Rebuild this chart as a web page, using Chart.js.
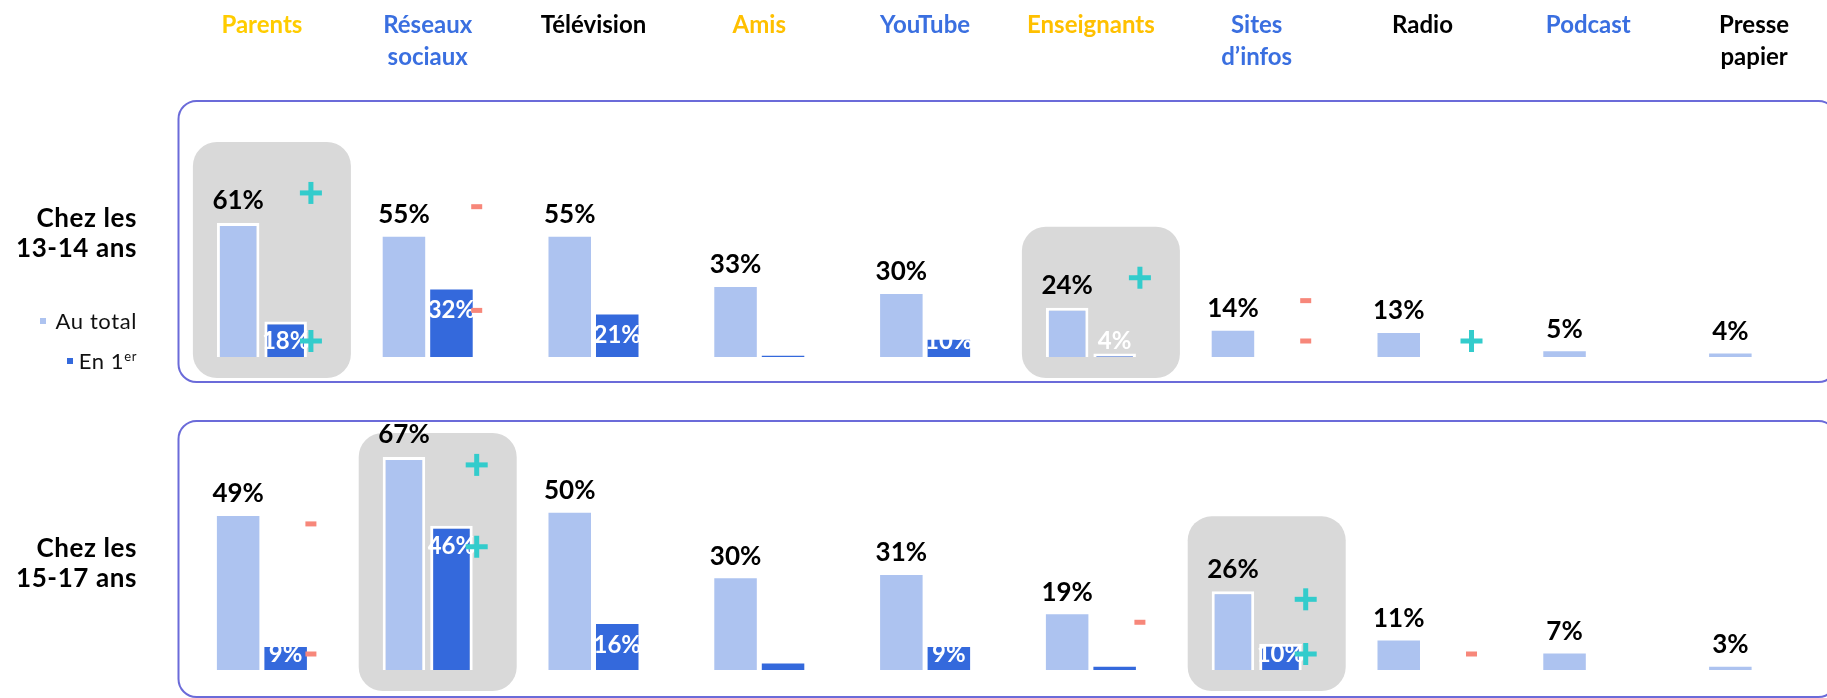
<!DOCTYPE html>
<html>
<head>
<meta charset="utf-8">
<script src="https://cdn.jsdelivr.net/npm/chart.js"></script>
<style>
html,body{margin:0;padding:0;background:#fff;}
#wrap{position:relative;width:1827px;height:698px;overflow:hidden;background:#fff;font-family:Lato,sans-serif;}
#c1{position:absolute;left:0;top:0;}
#c2{position:absolute;left:0;top:400px;}
.rowlab{position:absolute;left:0;width:137px;text-align:right;font-weight:bold;font-size:26px;line-height:30px;color:#000;letter-spacing:0.6px;}
.leg{position:absolute;left:0;width:137px;text-align:right;font-size:22px;line-height:24px;color:#111;letter-spacing:0.6px;}
.leg sup{font-size:13px;vertical-align:8px;line-height:0;}
.sq{position:absolute;width:6px;height:6px;}
</style>
</head>
<body>
<div id="wrap">
  <canvas id="c1" width="1840" height="400" style="width:1840px;height:400px"></canvas>
  <canvas id="c2" width="1840" height="298" style="width:1840px;height:298px"></canvas>
  <div class="rowlab" style="top:202px">Chez les<br>13-14 ans</div>
  <div class="rowlab" style="top:532px">Chez les<br>15-17 ans</div>
  <div class="sq" style="left:40px;top:318px;background:#ADC3F0"></div>
  <div class="leg" style="top:309px">Au total</div>
  <div class="sq" style="left:67px;top:358px;background:#3469DC"></div>
  <div class="leg" style="top:349px">En 1<sup>er</sup></div>
</div>
<script>
// ---- data ----
const categories = [["Parents"], ["Réseaux", "sociaux"], ["Télévision"], ["Amis"], ["YouTube"],
                    ["Enseignants"], ["Sites", "d’infos"], ["Radio"], ["Podcast"], ["Presse", "papier"]];
const categoryColors = ["#FFCC00", "#3A6FE0", "#000000", "#FFC000", "#3A6FE0",
                        "#FFC000", "#3A6FE0", "#000000", "#3A6FE0", "#000000"];

const total1314 = [61, 55, 55, 33, 30, 24, 14, 13, 5, 4];
const first1314 = [18, 32, 21, 3, 10, 4, null, null, null, null];
const total1517 = [49, 67, 50, 30, 31, 19, 26, 11, 7, 3];
const first1517 = [9, 46, 16, 4, 9, 3, 10, null, null, null];

// significance: 1 = "+", -1 = "-", 0 = none
const sigTotal1314 = [1, -1, 0, 0, 0, 1, -1, 0, 0, 0];
const sigFirst1314 = [1, -1, 0, 0, 0, 0, -1, 1, 0, 0];
const sigTotal1517 = [-1, 1, 0, 0, 0, -1, 1, 0, 0, 0];
const sigFirst1517 = [-1, 1, 0, 0, 0, 0, 1, -1, 0, 0];

const highlight1314 = [0, 5];
const highlight1517 = [1, 6];

// ---- styles ----
const LIGHT = "#ADC3F0";
const DARK = "#3469DC";
const PLUS = "#33CCCC";
const MINUS = "#F7877A";
const GREY = "#D9D9D9";
const FRAME = "#6B6BD9";

Chart.defaults.font.family = "Lato, sans-serif";

function geom(chart, i) {
  const xs = chart.scales.x, ys = chart.scales.y;
  const lt = chart.getDatasetMeta(0).data[i];
  const dk = chart.getDatasetMeta(1).data[i];
  const center = xs.getPixelForValue(i);
  const base = ys.getPixelForValue(ys.min);
  const w = lt.width;
  const darkX = 2 * center - lt.x;
  const fv = chart.data.datasets[1].data[i];
  const totalLabelY = lt.y - 22;
  const firstLabelY = (fv == null) ? base - 16 : Math.min(dk.y + 21, base - 16);
  const markerX = darkX + w / 2 + 4;
  return {center, base, w, lt, dk, darkX, fv, totalLabelY, firstLabelY, markerX};
}

function drawMarker(ctx, type, x, y) {
  if (type === 1) {
    ctx.fillStyle = PLUS;
    ctx.fillRect(x - 11, y - 2.5, 22, 5);
    ctx.fillRect(x - 2.5, y - 11, 5, 22);
  } else if (type === -1) {
    ctx.fillStyle = MINUS;
    ctx.fillRect(x - 5.5, y - 2.5, 11, 5);
  }
}

const panelPlugin = {
  id: "panel",
  beforeDraw(chart, args, o) {
    const ctx = chart.ctx, a = chart.chartArea;
    ctx.save();
    ctx.strokeStyle = FRAME;
    ctx.lineWidth = 2;
    ctx.beginPath();
    ctx.roundRect(a.left - 0.5, o.boxTop, a.right - a.left, o.boxBottom - o.boxTop, 18);
    ctx.stroke();
    ctx.restore();
  },
  beforeDatasetsDraw(chart, args, o) {
    const ctx = chart.ctx;
    ctx.save();
    ctx.fillStyle = GREY;
    o.highlight.forEach(i => {
      const g = geom(chart, i);
      const mY = g.totalLabelY + o.totalMarkerShift;
      let top = Math.min(g.totalLabelY - 13, o.sigTotal[i] ? mY - 11 : Infinity) - 40;
      top = Math.max(top, o.boxTop + 12);
      const left = g.center - 69, right = g.center + 89, bottom = g.base + 21;
      ctx.beginPath();
      ctx.roundRect(left, top, right - left, bottom - top, 24);
      ctx.fill();
    });
    ctx.restore();
  },
  afterDatasetsDraw(chart, args, o) {
    const ctx = chart.ctx;
    const n = chart.data.labels.length;
    ctx.save();
    ctx.textAlign = "center";
    ctx.textBaseline = "middle";
    for (let i = 0; i < n; i++) {
      const g = geom(chart, i);
      const tv = chart.data.datasets[0].data[i];
      ctx.fillStyle = "#000";
      ctx.font = "bold 26px Lato";
      ctx.fillText(tv + "%", g.lt.x, g.totalLabelY);
      if (g.fv != null && (g.fv >= 8 || o.highlight.includes(i))) {
        ctx.fillStyle = "#fff";
        ctx.font = "bold 24px Lato";
        ctx.fillText(g.fv + "%", g.darkX, g.firstLabelY);
      }
    }
    for (let i = 0; i < n; i++) {
      const g = geom(chart, i);
      drawMarker(ctx, o.sigTotal[i], g.markerX, g.totalLabelY + o.totalMarkerShift);
      drawMarker(ctx, o.sigFirst[i], g.markerX, g.firstLabelY);
    }
    ctx.restore();
  }
};

function makeChart(id, total, first, sigT, sigF, hl, cfg) {
  return new Chart(document.getElementById(id), {
    type: "bar",
    data: {
      labels: categories,
      datasets: [
        {label: "Au total", data: total, backgroundColor: LIGHT, borderColor: "#fff",
         borderWidth: c => hl.includes(c.dataIndex) ? 3 : 0, borderSkipped: false,
         categoryPercentage: 0.573, barPercentage: 0.895},
        {label: "En 1er", data: first, backgroundColor: DARK, borderColor: "#fff",
         borderWidth: c => hl.includes(c.dataIndex) ? 3 : 0, borderSkipped: false,
         categoryPercentage: 0.573, barPercentage: 0.895}
      ]
    },
    options: {
      responsive: false,
      animation: false,
      devicePixelRatio: 1,
      layout: {padding: {left: 179, right: 3, top: cfg.padTop, bottom: cfg.padBottom}},
      plugins: {
        legend: {display: false},
        tooltip: {enabled: false},
        panel: {boxTop: cfg.boxTop, boxBottom: cfg.boxBottom, highlight: hl,
                sigTotal: sigT, sigFirst: sigF, totalMarkerShift: cfg.markerShift}
      },
      scales: {
        x: {
          position: "top",
          display: cfg.header,
          grid: {display: false, drawTicks: false},
          border: {display: false},
          ticks: {
            autoSkip: false, maxRotation: 0, minRotation: 0,
            padding: 9, crossAlign: "far",
            font: {size: 24, weight: "bold", lineHeight: 32 / 24},
            color: c => categoryColors[c.index]
          }
        },
        y: {display: false, min: cfg.min, max: cfg.max}
      }
    },
    plugins: [panelPlugin]
  });
}

makeChart("c1", total1314, first1314, sigTotal1314, sigFirst1314, highlight1314,
  {header: true, padTop: 0, padBottom: 43, min: 2.5, max: 122.5, boxTop: 101, boxBottom: 382, markerShift: -8});
makeChart("c2", total1517, first1517, sigTotal1517, sigFirst1517, highlight1517,
  {header: false, padTop: 11, padBottom: 28, min: 2, max: 81, boxTop: 21, boxBottom: 297, markerShift: 30});
</script>
</body>
</html>
